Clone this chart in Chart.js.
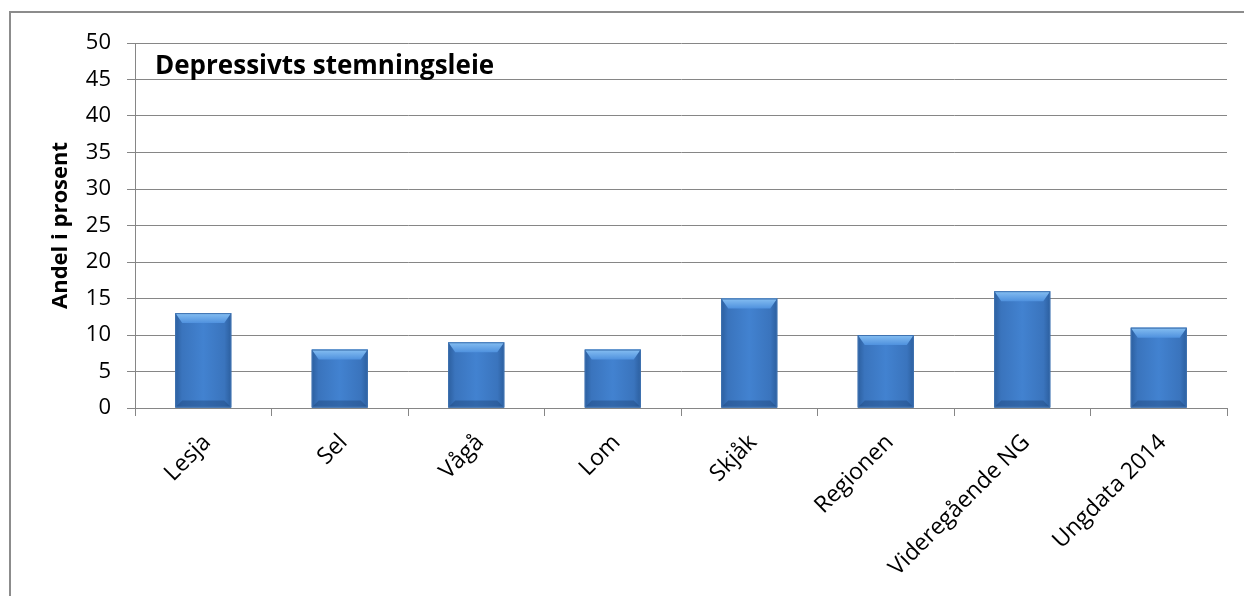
<!DOCTYPE html>
<html>
<head>
<meta charset="utf-8">
<script src="https://cdn.jsdelivr.net/npm/chart.js@4/dist/chart.umd.min.js"></script>
<style>
  html, body { margin: 0; padding: 0; background: #fff; }
  #wrap { position: relative; width: 1244px; height: 596px; overflow: hidden; }
  #frame { position: absolute; left: 9px; top: 11px; width: 1240px; height: 600px;
           border-left: 2px solid #8c8c8c; border-top: 2px solid #8c8c8c; }
  #chart { position: absolute; left: 0; top: 0; }
</style>
</head>
<body>
<div id="wrap">
  <div id="frame"></div>
  <canvas id="chart" width="1244" height="596"></canvas>
</div>
<script>
const categories = ['Lesja', 'Sel', 'Vågå', 'Lom', 'Skjåk', 'Regionen', 'Videregående NG', 'Ungdata 2014'];
const values = [13, 8, 9, 8, 15, 10, 16, 11];
const chartTitle = 'Depressivts stemningsleie';
const yAxisTitle = 'Andel i prosent';
const yMin = 0, yMax = 50, yStep = 5;

const fontFamily = '"Open Sans", Lato, sans-serif';

// Excel-style bevel on each bar
const bevelPlugin = {
    id: 'bevel',
    afterDatasetsDraw(chart) {
        const ctx = chart.ctx;
        chart.getDatasetMeta(0).data.forEach(bar => {
            const left = bar.x - bar.width / 2;
            const right = bar.x + bar.width / 2;
            const top = bar.y;
            const bottom = bar.base;
            const b = 7;
            ctx.save();
            // horizontal shading
            const g = ctx.createLinearGradient(left, 0, right, 0);
            g.addColorStop(0, '#2c5f9f');
            g.addColorStop(0.12, '#3a74bd');
            g.addColorStop(0.5, '#4282d0');
            g.addColorStop(0.88, '#3a74bd');
            g.addColorStop(1, '#2c5f9f');
            ctx.fillStyle = g;
            ctx.fillRect(left, top, right - left, bottom - top);
            // top bevel
            ctx.beginPath();
            ctx.moveTo(left, top);
            ctx.lineTo(right, top);
            ctx.lineTo(right - b, top + b + 3);
            ctx.lineTo(left + b, top + b + 3);
            ctx.closePath();
            const gt = ctx.createLinearGradient(0, top, 0, top + b + 3);
            gt.addColorStop(0, '#86bff2');
            gt.addColorStop(1, '#4f91de');
            ctx.fillStyle = gt;
            ctx.fill();
            // bottom bevel
            ctx.beginPath();
            ctx.moveTo(left, bottom);
            ctx.lineTo(right, bottom);
            ctx.lineTo(right - b, bottom - b);
            ctx.lineTo(left + b, bottom - b);
            ctx.closePath();
            ctx.fillStyle = 'rgba(30, 70, 125, 0.45)';
            ctx.fill();
            // outline
            ctx.strokeStyle = '#3f72b0';
            ctx.lineWidth = 1;
            ctx.strokeRect(left + 0.5, top + 0.5, right - left - 1, bottom - top - 1);
            ctx.restore();
        });
    },
    afterDraw(chart) {
        const ctx = chart.ctx;
        ctx.save();
        ctx.fillStyle = '#000';
        ctx.font = 'bold 26px ' + fontFamily;
        ctx.textBaseline = 'middle';
        ctx.fillText(chartTitle, chart.chartArea.left + 20, 67);
        ctx.restore();
    }
};

const ctx = document.getElementById('chart').getContext('2d');
new Chart(ctx, {
    type: 'bar',
    data: {
        labels: categories,
        datasets: [{
            data: values,
            backgroundColor: '#3a74bd',
            borderWidth: 0,
            categoryPercentage: 1,
            barPercentage: 0.41
        }]
    },
    options: {
        responsive: false,
        animation: false,
        layout: { padding: { top: 43, right: 17, left: 0, bottom: 0 } },
        plugins: {
            legend: { display: false },
            tooltip: { enabled: false }
        },
        scales: {
            x: {
                afterFit: scale => { scale.height = 188; },
                border: { color: '#868686', width: 1 },
                grid: { offset: true, drawOnChartArea: false, tickLength: 8, color: '#868686' },
                ticks: {
                    color: '#000',
                    font: { family: fontFamily, size: 23 },
                    minRotation: 45,
                    maxRotation: 45,
                    padding: 13,
                    labelOffset: 4
                }
            },
            y: {
                min: yMin,
                max: yMax,
                afterFit: scale => { scale.width = 135; },
                border: { color: '#868686', width: 1 },
                grid: { color: '#868686', tickLength: 8 },
                ticks: {
                    stepSize: yStep,
                    color: '#000',
                    font: { family: fontFamily, size: 22 },
                    padding: 16
                },
                title: {
                    display: true,
                    text: yAxisTitle,
                    color: '#000',
                    font: { family: fontFamily, size: 22, weight: 'bold' },
                    padding: { top: 48, bottom: 0 }
                }
            }
        }
    },
    plugins: [bevelPlugin]
});
</script>
</body>
</html>
